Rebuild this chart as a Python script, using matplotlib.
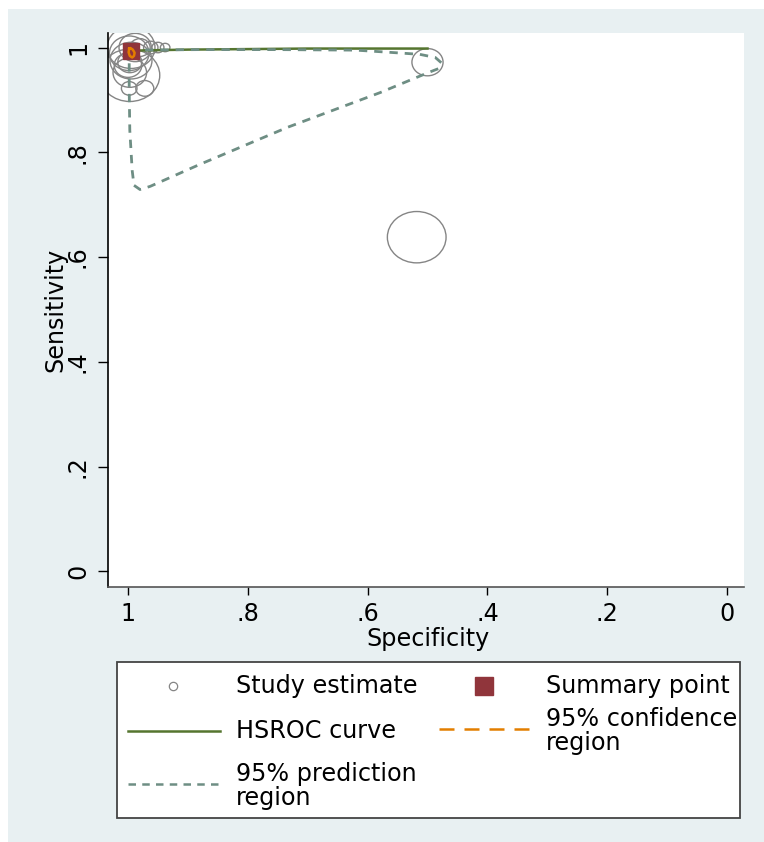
import numpy as np
import matplotlib
matplotlib.use("Agg")
import matplotlib.pyplot as plt
from matplotlib.patches import Ellipse, Rectangle
from matplotlib.lines import Line2D

plt.rcParams['font.family'] = ['DejaVu Sans']

# study estimates (specificity, sensitivity, marker radius in data units ~ study weight)
study_spec = [0.518, 0.500, 0.995, 0.998, 0.997, 0.997, 0.997, 0.998, 0.972,
              0.962, 0.950, 0.938, 0.980, 0.988, 1.000, 0.995]
study_sens = [0.638, 0.972, 1.000, 0.989, 0.947, 0.952, 0.972, 0.922, 0.922,
              1.000, 1.000, 1.000, 1.000, 1.000, 0.966, 0.975]
study_rad = [0.049, 0.026, 0.040, 0.033, 0.050, 0.028, 0.020, 0.013, 0.015,
             0.012, 0.010, 0.008, 0.017, 0.027, 0.023, 0.035]

# summary point
summ_spec = 0.995
summ_sens = 0.993

# HSROC curve
hsroc_spec = [0.995, 0.9, 0.8, 0.7, 0.6, 0.5]
hsroc_sens = [0.994, 0.996, 0.997, 0.998, 0.998, 0.998]

# 95% confidence region
conf_spec = [0.998, 0.996, 0.992, 0.989, 0.990, 0.993, 0.997, 0.999, 0.998]
conf_sens = [0.998, 0.999, 0.996, 0.990, 0.984, 0.981, 0.984, 0.991, 0.998]

# 95% prediction region
pred_spec = [0.997, 0.880, 0.750, 0.620, 0.579, 0.513, 0.487, 0.477, 0.481,
             0.499, 0.579, 0.733, 0.880, 0.963, 0.980, 0.990, 0.993, 0.997,
             0.998, 0.998, 0.997]
pred_sens = [0.995, 0.996, 0.996, 0.995, 0.992, 0.987, 0.981, 0.971, 0.960,
             0.952, 0.914, 0.848, 0.777, 0.735, 0.729, 0.737, 0.765, 0.842,
             0.918, 0.975, 0.995]

ticks = [1, 0.8, 0.6, 0.4, 0.2, 0]
tick_labels = ['1', '.8', '.6', '.4', '.2', '0']

legend_labels = ['Study estimate', 'Summary point', 'HSROC curve',
                 '95% confidence\nregion', '95% prediction\nregion']

bg = '#e8f0f2'
c_circle = '#858585'
c_summ = '#90353b'
c_hsroc = '#55752f'
c_conf = '#e37e00'
c_pred = '#6e8e84'
fs = 17.2

W, H = 764, 842
fig = plt.figure(figsize=(W / 100, H / 100), dpi=100)
fig.patch.set_facecolor('white')
fig.patches.append(Rectangle((8 / W, 0), 1, (H - 9) / H, transform=fig.transFigure,
                             facecolor=bg, edgecolor='none', zorder=-10))

def fx(px):
    return px / W

def fy(py):
    return 1 - py / H

ax = fig.add_axes([fx(108), fy(587), (744 - 108) / W, (587 - 33) / H])
ax.set_facecolor('white')
ax.set_xlim(1.0334, -0.0284)
ax.set_ylim(-0.0296, 1.0277)

for s, t, r in zip(study_spec, study_sens, study_rad):
    ax.add_patch(Ellipse((s, t), 2 * r, 2 * r, facecolor='none',
                         edgecolor=c_circle, lw=1.0, zorder=2))

ax.plot(hsroc_spec, hsroc_sens, color=c_hsroc, lw=1.8, zorder=3)
ax.plot(pred_spec, pred_sens, color=c_pred, lw=2.0, dashes=(3, 2.5), zorder=4)
ax.plot(summ_spec, summ_sens, marker='s', ms=12, color=c_summ, ls='none', zorder=5)
ax.plot(conf_spec, conf_sens, color=c_conf, lw=1.8, zorder=6)

for side in ['top', 'right']:
    ax.spines[side].set_visible(False)
ax.spines['left'].set_color('black')
ax.spines['left'].set_linewidth(1.2)
ax.spines['bottom'].set_color('#555555')
ax.spines['bottom'].set_linewidth(1.2)

ax.set_xticks(ticks)
ax.set_xticklabels(tick_labels, fontsize=fs)
ax.set_yticks(ticks)
ax.set_yticklabels(tick_labels, fontsize=fs)
ax.tick_params(axis='x', length=6, width=1, pad=5, colors='black')
ax.tick_params(axis='y', length=7, width=1, pad=6, colors='black')
for lab in ax.get_yticklabels():
    lab.set_rotation(90)
    lab.set_va('center')

fig.text(fx(428), fy(639), 'Specificity', ha='center', va='center', fontsize=fs)
fig.text(fx(55), fy(310), 'Sensitivity', ha='center', va='center',
         rotation=90, fontsize=fs)

# legend box drawn by hand (Stata layout)
fig.patches.append(Rectangle((fx(117), fy(818)), (740 - 117) / W, (818 - 662) / H,
                             transform=fig.transFigure, facecolor='white',
                             edgecolor='#444444', lw=1.3, zorder=1))

fig.lines.append(Line2D([fx(173)], [fy(686)], marker='o', ms=6, mfc='none',
                        mec=c_circle, mew=0.9, transform=fig.transFigure))
fig.lines.append(Line2D([fx(484)], [fy(686)], marker='s', ms=13, color=c_summ,
                        transform=fig.transFigure))
fig.lines.append(Line2D([fx(128), fx(220)], [fy(731), fy(731)], color=c_hsroc,
                        lw=1.8, transform=fig.transFigure))
fig.lines.append(Line2D([fx(439), fx(532)], [fy(729), fy(729)], color=c_conf,
                        lw=1.8, dashes=(6, 4), transform=fig.transFigure))
fig.lines.append(Line2D([fx(128), fx(220)], [fy(784), fy(784)], color=c_pred,
                        lw=1.8, dashes=(3, 2.5), transform=fig.transFigure))

label_pos = [(236, 686), (546, 686), (236, 731), (546, 731), (236, 786)]
for lab, (px, py) in zip(legend_labels, label_pos):
    fig.text(fx(px), fy(py), lab, ha='left', va='center', fontsize=fs,
             linespacing=0.95)

fig.savefig('out.png', dpi=100, facecolor=fig.get_facecolor())
